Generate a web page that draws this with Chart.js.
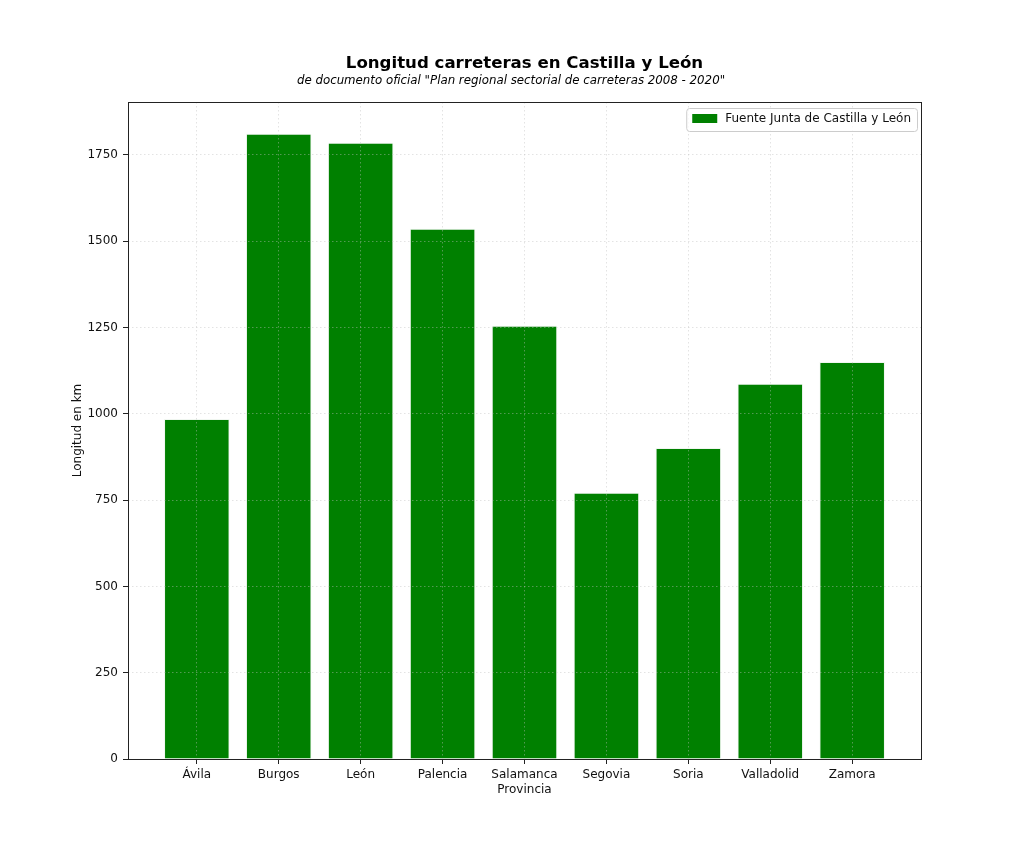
<!DOCTYPE html>
<html lang="es">
<head>
    <meta charset="UTF-8">
    <title>Longitud carreteras en Castilla y León</title>
    <script src="https://cdn.jsdelivr.net/npm/chart.js"></script>
    <style>
        body { margin: 0; background: #fff; }
        #wrap { width: 1024px; height: 853px; }
    </style>
</head>
<body>
    <div id="wrap"><canvas id="grafico"></canvas></div>

    <script>
        // datos
        const provincias = ["Ávila", "Burgos", "León", "Palencia", "Salamanca", "Segovia", "Soria", "Valladolid", "Zamora"];
        const longitudKm = [985, 1811, 1785, 1536, 1255, 771, 901, 1087, 1150];
        const ticksY = [0, 250, 500, 750, 1000, 1250, 1500, 1750];
        const etiquetaSerie = "Fuente Junta de Castilla y León";
        const titulo = "Longitud carreteras en Castilla y León";
        const subtitulo = 'de documento oficial "Plan regional sectorial de carreteras 2008 - 2020"';

        const verde = "#008000";
        const fuente = '"DejaVu Sans", sans-serif';

        // título, leyenda y marco dibujados sobre el área del gráfico
        const extras = {
            id: "extras",
            afterDraw(chart) {
                const { ctx, chartArea: a } = chart;
                ctx.save();

                // marco
                ctx.strokeStyle = "#222";
                ctx.lineWidth = 1;
                ctx.strokeRect(a.left + 0.5, a.top + 0.5, a.right - a.left, a.bottom - a.top);

                // títulos (el subtítulo va centrado en la figura)
                ctx.fillStyle = "#000";
                ctx.textAlign = "center";
                ctx.textBaseline = "middle";
                ctx.font = "bold 16.6px " + fuente;
                ctx.fillText(titulo, (a.left + a.right) / 2, 64);
                ctx.font = "italic 11.8px " + fuente;
                ctx.fillText(subtitulo, chart.width / 2 - 1, 81);

                // leyenda
                ctx.font = "12px " + fuente;
                const tw = ctx.measureText(etiquetaSerie).width;
                const w = tw + 45, h = 23;
                const x = a.right - 4 - w, y = a.top + 6;
                ctx.beginPath();
                ctx.roundRect(x + 0.5, y + 0.5, w, h, 3);
                ctx.fillStyle = "rgba(255,255,255,0.8)";
                ctx.fill();
                ctx.strokeStyle = "#cccccc";
                ctx.stroke();
                ctx.fillStyle = verde;
                ctx.fillRect(x + 6, y + 6, 25, 9);
                ctx.fillStyle = "#111";
                ctx.textAlign = "left";
                ctx.fillText(etiquetaSerie, x + 39, y + 11);
                ctx.restore();
            }
        };

        const rejilla = {
            color: "rgba(190,190,190,0.55)",
            lineWidth: 0.8,
            z: 1,
            offset: false,
            tickColor: "#222",
            tickLength: 5,
            tickWidth: 1
        };

        new Chart(document.getElementById("grafico"), {
            type: "bar",
            data: {
                datasets: [{
                    label: etiquetaSerie,
                    data: provincias.map((p, i) => ({ x: i, y: longitudKm[i] })),
                    backgroundColor: verde,
                    borderColor: "rgba(230,240,230,0.6)",
                    borderWidth: 1,
                    borderSkipped: "bottom",
                    barPercentage: 0.8,
                    categoryPercentage: 1
                }]
            },
            options: {
                responsive: true,
                maintainAspectRatio: false,
                animation: false,
                layout: { padding: { top: 102, right: 103, left: 71, bottom: 56 } },
                plugins: {
                    legend: { display: false },
                    tooltip: { enabled: false }
                },
                scales: {
                    x: {
                        type: "linear",
                        offset: false,
                        min: -0.84,
                        max: 8.84,
                        afterBuildTicks: s => { s.ticks = provincias.map((p, i) => ({ value: i })); },
                        afterFit: s => { s.height = 38; },
                        grid: rejilla,
                        border: { display: false, dash: [1.5, 2.5] },
                        ticks: {
                            callback: v => provincias[v],
                            color: "#111",
                            padding: 4,
                            maxRotation: 0,
                            font: { family: fuente, size: 12 }
                        },
                        title: {
                            display: true,
                            text: "Provincia",
                            color: "#111",
                            padding: 0,
                            font: { family: fuente, size: 12 }
                        }
                    },
                    y: {
                        min: 0,
                        max: 1903,
                        afterBuildTicks: s => { s.ticks = ticksY.map(v => ({ value: v })); },
                        afterFit: s => { s.width = 57; },
                        grid: rejilla,
                        border: { display: false, dash: [1.5, 2.5] },
                        ticks: {
                            callback: v => String(v),
                            color: "#111",
                            padding: 5,
                            font: { family: fuente, size: 12 }
                        },
                        title: {
                            display: true,
                            text: "Longitud en km",
                            color: "#111",
                            padding: 0,
                            font: { family: fuente, size: 12 }
                        }
                    }
                }
            },
            plugins: [extras]
        });
    </script>
</body>
</html>
